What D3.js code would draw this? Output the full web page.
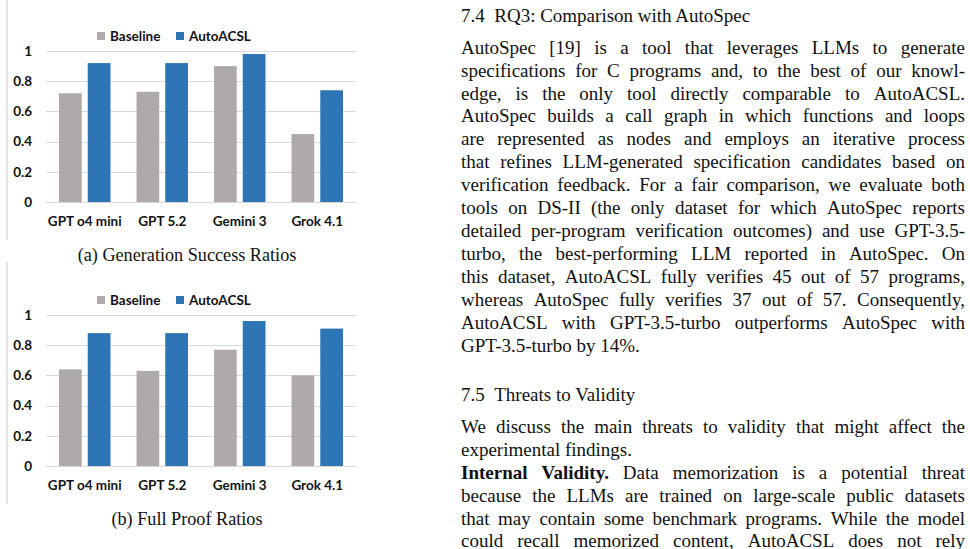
<!DOCTYPE html>
<html><head><meta charset="utf-8">
<script src="https://cdn.jsdelivr.net/npm/d3@7/dist/d3.min.js"></script>
<style>
html,body{margin:0;padding:0;background:#fff;}
svg{display:block;}
</style></head>
<body>
<svg id="page" width="970" height="549"></svg>
<script>
// ---------- DATA ----------
const categories = ["GPT o4 mini", "GPT 5.2", "Gemini 3", "Grok 4.1"];
const seriesNames = ["Baseline", "AutoACSL"];
const genBaseline = [0.72, 0.73, 0.90, 0.45];
const genAutoACSL = [0.92, 0.92, 0.98, 0.74];
const proofBaseline = [0.64, 0.63, 0.77, 0.60];
const proofAutoACSL = [0.88, 0.88, 0.96, 0.91];
const yTickValues = [0, 0.2, 0.4, 0.6, 0.8, 1];
const yTickLabels = ["0", "0.2", "0.4", "0.6", "0.8", "1"];
const captions = ["(a) Generation Success Ratios", "(b) Full Proof Ratios"];

const heading1 = "7.4\u2002RQ3: Comparison with AutoSpec";
const para1 = [
  "AutoSpec [19] is a tool that leverages LLMs to generate",
  "specifications for C programs and, to the best of our knowl-",
  "edge, is the only tool directly comparable to AutoACSL.",
  "AutoSpec builds a call graph in which functions and loops",
  "are represented as nodes and employs an iterative process",
  "that refines LLM-generated specification candidates based on",
  "verification feedback. For a fair comparison, we evaluate both",
  "tools on DS-II (the only dataset for which AutoSpec reports",
  "detailed per-program verification outcomes) and use GPT-3.5-",
  "turbo, the best-performing LLM reported in AutoSpec. On",
  "this dataset, AutoACSL fully verifies 45 out of 57 programs,",
  "whereas AutoSpec fully verifies 37 out of 57. Consequently,",
  "AutoACSL with GPT-3.5-turbo outperforms AutoSpec with",
  "GPT-3.5-turbo by 14%."
];
const heading2 = "7.5\u2002Threats to Validity";
const para2 = [
  "We discuss the main threats to validity that might affect the",
  "experimental findings."
];
const para3 = [
  "**Internal Validity.** Data memorization is a potential threat",
  "because the LLMs are trained on large-scale public datasets",
  "that may contain some benchmark programs. While the model",
  "could recall memorized content, AutoACSL does not rely"
];

// ---------- DRAW ----------
const svg = d3.select("#page");
const colors = {Baseline: "#AEAAAA", AutoACSL: "#2E75B6"};
const chartFont = "Lato, 'Open Sans', sans-serif";
const chartFs = 13.5;
const serif = "'Liberation Serif', 'Times New Roman', serif";

function drawChart(offsetY, baseVals, autoVals, caption) {
  const g = svg.append("g").attr("transform", `translate(0,${offsetY})`);
  // left frame line
  g.append("line").attr("x1", 7).attr("x2", 7).attr("y1", -2).attr("y2", 240)
    .attr("stroke", "#d4d4d4").attr("stroke-width", 1.2);

  const x = d3.scaleBand().domain(categories).range([46, 356]).paddingInner(0).paddingOuter(0);
  const xs = d3.scaleBand().domain(seriesNames).range([0, x.bandwidth()])
    .paddingInner(0.209).paddingOuter(0.453);
  const y = d3.scaleLinear().domain([0, 1]).range([202, 51]);

  // gridlines
  g.append("g").selectAll("line").data(yTickValues).join("line")
    .attr("x1", 46).attr("x2", 356)
    .attr("y1", d => Math.round(y(d)) + 0.5).attr("y2", d => Math.round(y(d)) + 0.5)
    .attr("stroke", "#d9d9d9").attr("stroke-width", 1);

  // y tick labels
  g.append("g").selectAll("text").data(yTickValues).join("text")
    .attr("x", 32).attr("y", d => y(d)).attr("dy", "0.35em")
    .attr("text-anchor", "end").attr("font-family", chartFont)
    .attr("font-weight", 700).attr("font-size", chartFs).attr("fill", "#111")
    .text((d, i) => yTickLabels[i]);

  // bars
  const rows = categories.map((c, i) => ({cat: c, vals: [
    {s: "Baseline", v: baseVals[i]}, {s: "AutoACSL", v: autoVals[i]}]}));
  const cg = g.append("g").selectAll("g").data(rows).join("g")
    .attr("transform", d => `translate(${x(d.cat)},0)`);
  cg.selectAll("rect").data(d => d.vals).join("rect")
    .attr("x", d => xs(d.s)).attr("width", xs.bandwidth())
    .attr("y", d => y(d.v)).attr("height", d => y(0) - y(d.v))
    .attr("fill", d => colors[d.s]);

  // x labels
  g.append("g").selectAll("text").data(categories).join("text")
    .attr("x", d => x(d) + x.bandwidth() / 2).attr("y", 221).attr("dy", "0.35em")
    .attr("text-anchor", "middle").attr("font-family", chartFont)
    .attr("font-weight", 700).attr("font-size", chartFs).attr("fill", "#111")
    .text(d => d);

  // legend
  const legX = {Baseline: 97, AutoACSL: 176};
  const lg = g.append("g").selectAll("g").data(seriesNames).join("g")
    .attr("transform", d => `translate(${legX[d]},36)`);
  lg.append("rect").attr("x", 0).attr("y", -4).attr("width", 8).attr("height", 8)
    .attr("fill", d => colors[d]);
  lg.append("text").attr("x", 13).attr("y", 0).attr("dy", "0.35em")
    .attr("font-family", chartFont).attr("font-weight", 700).attr("font-size", chartFs)
    .attr("fill", "#111").text(d => d);

  // caption
  g.append("text").attr("x", 187).attr("y", 255).attr("dy", "0.32em")
    .attr("text-anchor", "middle").attr("font-family", serif).attr("font-size", 18.2)
    .attr("fill", "#111").text(caption);
}

drawChart(0, genBaseline, genAutoACSL, captions[0]);
drawChart(264, proofBaseline, proofAutoACSL, captions[1]);

// ---------- TEXT COLUMN ----------
const colX = 461, colW = 504, fs = 19;
function drawLine(str, yc, justify) {
  const tokens = [];
  let rest = str;
  const bm = rest.match(/^\*\*(.+?)\*\*\s*/);
  if (bm) {
    bm[1].split(" ").forEach(w => tokens.push({w, b: true}));
    rest = rest.slice(bm[0].length);
  }
  rest.split(" ").filter(w => w.length).forEach(w => tokens.push({w, b: false}));
  const g = svg.append("g");
  const texts = g.selectAll("text").data(tokens).join("text")
    .attr("y", yc).attr("dy", "0.3em")
    .attr("font-family", serif).attr("font-size", fs)
    .attr("font-weight", d => d.b ? 700 : 400).attr("fill", "#111")
    .text(d => d.w);
  const widths = texts.nodes().map(n => n.getComputedTextLength());
  const total = d3.sum(widths);
  const normalSpace = fs * 0.25;
  const gap = justify && tokens.length > 1 ? (colW - total) / (tokens.length - 1) : normalSpace;
  let cx = colX;
  texts.each(function(d, i) {
    d3.select(this).attr("x", cx);
    cx += widths[i] + gap;
  });
}
function drawHeading(str, yc) {
  svg.append("text").attr("x", colX).attr("y", yc).attr("dy", "0.3em")
    .attr("font-family", serif).attr("font-size", fs).attr("fill", "#111")
    .attr("xml:space", "preserve").text(str);
}

drawHeading(heading1, 16);
const lh = 22.92;
para1.forEach((l, i) => drawLine(l, 48 + i * lh, i < para1.length - 1));
drawHeading(heading2, 395);
para2.forEach((l, i) => drawLine(l, 427 + i * lh, i < para2.length - 1));
para3.forEach((l, i) => drawLine(l, 473 + i * lh, true));
</script>
</body></html>
